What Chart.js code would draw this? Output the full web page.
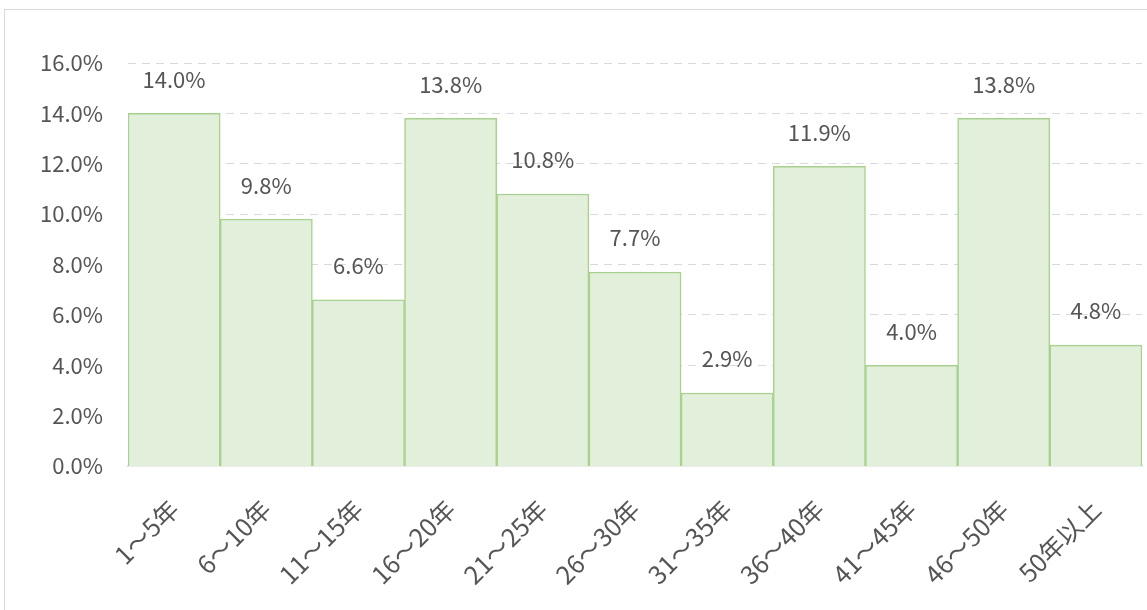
<!DOCTYPE html>
<html>
<head>
<meta charset="utf-8">
<script src="https://cdn.jsdelivr.net/npm/chart.js@4/dist/chart.umd.min.js"></script>
<style>
  html, body { margin: 0; padding: 0; background: #fff; overflow: hidden; }
  #frame { position: absolute; left: 4px; top: 9px; width: 1160px; height: 620px; border: 1px solid #d9d9d9; }
  #myChart { position: absolute; left: 0; top: 0; }
</style>
</head>
<body>
<div id="frame"></div>
<canvas id="myChart" width="1147" height="610"></canvas>
<script>
// 勤続年数の割合
const categories = ["1～5年", "6～10年", "11～15年", "16～20年", "21～25年", "26～30年", "31～35年", "36～40年", "41～45年", "46～50年", "50年以上"];
const values = [14.0, 9.8, 6.6, 13.8, 10.8, 7.7, 2.9, 11.9, 4.0, 13.8, 4.8];
const yTicks = [0, 2, 4, 6, 8, 10, 12, 14, 16];

const FONT = "'Noto Sans CJK JP', 'Noto Sans', sans-serif";
const TEXT = "#555555";

// labels above the bars
const barLabels = {
    id: "barLabels",
    afterDatasetsDraw(chart){
        const ctx = chart.ctx;
        const meta = chart.getDatasetMeta(0);
        ctx.save();
        ctx.font = "22px " + FONT;
        ctx.fillStyle = TEXT;
        ctx.textAlign = "center";
        ctx.textBaseline = "middle";
        meta.data.forEach((bar, i) => {
            ctx.fillText(values[i].toFixed(1) + "%", bar.x, bar.y - 34);
        });
        ctx.restore();
    }
};

const ctx = document.getElementById("myChart").getContext("2d");

const myChart = new Chart(ctx, {
    type: "bar",
    data: {
        labels: categories,
        datasets: [{
            data: values,
            backgroundColor: "#e2efda",
            borderColor: "#a9d18e",
            borderWidth: 1.5,
            categoryPercentage: 1,
            barPercentage: 1
        }]
    },
    options: {
        responsive: false,
        devicePixelRatio: 1,
        animation: false,
        layout: { padding: { top: 63, right: 5, left: 0, bottom: 0 } },
        plugins: { legend: { display: false }, tooltip: { enabled: false } },
        scales: {
            x: {
                grid: { display: false, drawTicks: false },
                border: { color: "#d9d9d9", width: 1.5 },
                ticks: {
                    color: TEXT,
                    font: { family: FONT, size: 25 },
                    minRotation: 45,
                    maxRotation: 45,
                    padding: 28,
                    autoSkip: false
                },
                afterFit: s => { s.height = 144; }
            },
            y: {
                min: 0,
                max: 16,
                afterBuildTicks: s => { s.ticks = yTicks.map(v => ({ value: v })); },
                grid: {
                    color: "#d9d9d9",
                    drawTicks: false,
                    lineWidth: ctx => ctx.tick.value === 0 ? 0 : 1
                },
                border: { display: false, dash: [8, 6] },
                ticks: {
                    color: TEXT,
                    font: { family: FONT, size: 22 },
                    padding: 25,
                    callback: v => v.toFixed(1) + "%"
                },
                afterFit: s => { s.width = 128; }
            }
        }
    },
    plugins: [barLabels]
});
</script>
</body>
</html>
